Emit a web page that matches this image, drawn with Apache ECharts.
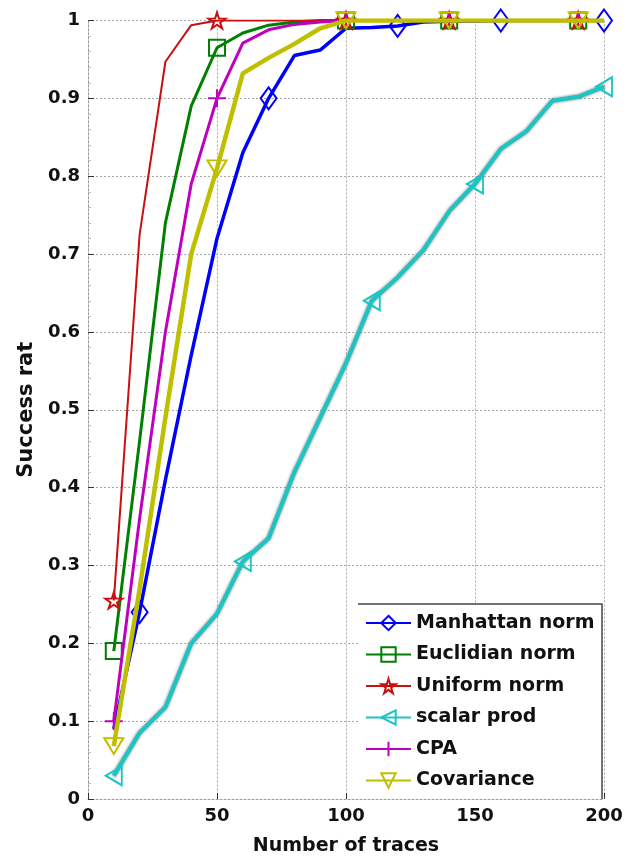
<!DOCTYPE html>
<html>
<head>
<meta charset="utf-8">
<script src="https://cdn.jsdelivr.net/npm/echarts@6/dist/echarts.min.js"></script>
<style>
html,body{margin:0;padding:0;background:#fff;}
#chart{width:629px;height:861px;}
</style>
</head>
<body>
<div id="chart"></div>
<script>
// ---- data ----
const xValues = [10,20,30,40,50,60,70,80,90,100,110,120,130,140,150,160,170,180,190,200];
const seriesNames = ['Manhattan norm','Euclidian norm','Uniform norm','scalar product','CPA','Covariance'];
const manhattan  = [0.09,0.24,0.41,0.57,0.72,0.83,0.90,0.955,0.962,0.99,0.991,0.993,0.998,0.999,0.999,1,1,1,1,1];
const euclidian  = [0.19,0.46,0.74,0.89,0.965,0.984,0.994,0.998,1,1,1,1,1,1,1,1,1,1,1,1];
const uniform    = [0.255,0.725,0.947,0.994,1,1,1,1,1,1,1,1,1,1,1,1,1,1,1,1];
const scalarProd = [0.03,0.085,0.118,0.2,0.238,0.305,0.335,0.42,0.49,0.56,0.64,0.67,0.705,0.755,0.79,0.835,0.858,0.897,0.902,0.915];
const cpa        = [0.1,0.36,0.60,0.79,0.90,0.971,0.988,0.995,0.998,1,1,1,1,1,1,1,1,1,1,1];
const covariance = [0.068,0.27,0.49,0.70,0.81,0.932,0.952,0.97,0.99,1,1,1,1,1,1,1,1,1,1,1];
// x positions where markers are drawn
const manhattanMarks  = [20,70,120,160,200];
const euclidianMarks  = [10,50,100,140,190];
const uniformMarks    = [10,50,100,140,190];
const scalarMarks     = [10,60,110,150,200];
const cpaMarks        = [10,50,100,140,190];
const covarianceMarks = [10,50,100,140,190];
const xTickLabels = ['0','50','100','150','200'];
const yTickLabels = ['0','0.1','0.2','0.3','0.4','0.5','0.6','0.7','0.8','0.9','1'];
const xAxisTitle = 'Number of traces';
const yAxisTitle = 'Success rate';

// ---- build ----
function buildData(vals, marks){
  return xValues.map((x,i)=> marks.indexOf(x) >= 0 ? {value:[x, vals[i]]} : {value:[x, vals[i]], symbol:'none'});
}
const FONT = 'DejaVu Sans';
const STAR = 'path://M50,0 L61,35 L98,35 L68,57 L79,91 L50,70 L21,91 L32,57 L2,35 L39,35 Z';
const PLUS = 'path://M0,50 L100,50 M50,0 L50,100';
const TRI_LEFT = 'path://M0,50 L100,0 L100,100 Z';
const TRI_DOWN = 'path://M0,0 L100,0 L50,90 Z';

const defs = [
  {vals:manhattan, marks:manhattanMarks, color:'#0000ff', lw:3.5, symbol:'diamond', size:[16,22]},
  {vals:euclidian, marks:euclidianMarks, color:'#007f00', lw:3, symbol:'rect', size:[16,16]},
  {vals:uniform, marks:uniformMarks, color:'#c81010', lw:2, symbol:STAR, size:[17,16]},
  {vals:scalarProd, marks:scalarMarks, color:'#1cc4c4', lw:4, symbol:TRI_LEFT, size:[16,19], shadow:true},
  {vals:cpa, marks:cpaMarks, color:'#bf00bf', lw:3, symbol:PLUS, size:[18,18]},
  {vals:covariance, marks:covarianceMarks, color:'#bfbf00', lw:4.5, symbol:TRI_DOWN, size:[19,16]}
];

const series = defs.map((d,i)=>({
  name: seriesNames[i],
  type: 'line',
  data: buildData(d.vals, d.marks),
  symbol: d.symbol,
  symbolSize: d.size,
  showSymbol: true,
  showAllSymbol: true,
  animation: false,
  z: 2 + i,
  lineStyle: Object.assign({color:d.color, width:d.lw}, d.shadow ? {shadowColor:'rgba(40,60,60,0.75)', shadowBlur:3} : {}),
  itemStyle: {color:'rgba(255,255,255,0)', borderColor:d.color, borderWidth:2}
}));

const legendWidths = [190,190,190,132,190,125];

const chart = echarts.init(document.getElementById('chart'), null, {renderer:'canvas'});
chart.setOption({
  backgroundColor:'#ffffff',
  animation:false,
  grid:{left:88, right:25, top:20.5, bottom:61, containLabel:false},
  xAxis:{
    type:'value', min:0, max:200, interval:50,
    name:xAxisTitle, nameLocation:'middle', nameGap:38,
    nameTextStyle:{fontFamily:FONT, fontWeight:'bold', fontSize:19, color:'#111'},
    axisLine:{show:true, lineStyle:{color:'#999', type:[2,2], width:1}},
    axisTick:{show:true, inside:true, length:6, lineStyle:{color:'#333'}},
    axisLabel:{fontFamily:FONT, fontWeight:'bold', fontSize:18, color:'#111', margin:8,
      formatter:(v)=>xTickLabels[Math.round(v/50)]},
    splitLine:{show:true, lineStyle:{color:'#aaa', type:[2,2], width:1}}
  },
  yAxis:{
    type:'value', min:0, max:1, interval:0.1,
    name:yAxisTitle, nameLocation:'middle', nameGap:48, nameRotate:90,
    nameTruncate:{maxWidth:141, ellipsis:''},
    nameTextStyle:{fontFamily:FONT, fontWeight:'bold', fontSize:21, color:'#111'},
    axisLine:{show:true, lineStyle:{color:'#999', type:[2,2], width:1}},
    axisTick:{show:true, inside:true, length:6, lineStyle:{color:'#333'}},
    minorTick:{show:true, splitNumber:5, length:3, lineStyle:{color:'#bbb'}},
    axisLabel:{fontFamily:FONT, fontWeight:'bold', fontSize:18, color:'#111', margin:8,
      formatter:(v)=>yTickLabels[Math.round(v*10)]},
    splitLine:{show:true, lineStyle:{color:'#aaa', type:[2,2], width:1}}
  },
  legend:{
    orient:'vertical', left:365, top:613, padding:0,
    itemWidth:45, itemHeight:18, itemGap:11.5, z:20,
    textStyle:{fontFamily:FONT, fontWeight:'bold', fontSize:19, color:'#111', lineHeight:20},
    data: seriesNames.map((n,i)=>({name:n, textStyle:{width:legendWidths[i], overflow:'truncate', ellipsis:''}}))
  },
  graphic:[
    {type:'rect', z:10, shape:{x:358, y:604, width:244, height:195}, style:{fill:'#ffffff'}},
    {type:'polyline', z:11, shape:{points:[[358,604],[602,604],[602,799]]}, style:{stroke:'#444', lineWidth:1.5, fill:null}}
  ],
  series: series
});
</script>
</body>
</html>
